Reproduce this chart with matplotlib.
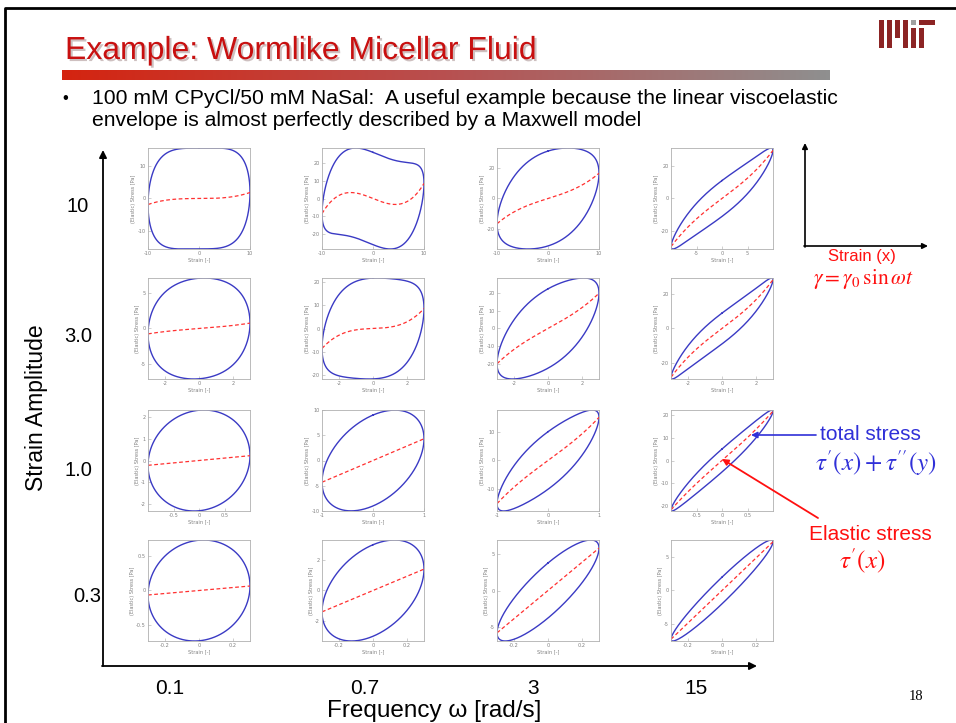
"""
Wormlike micellar fluid slide: Lissajous loops (total vs elastic stress)
over a grid of strain amplitudes and frequencies
"""
import numpy as np
import matplotlib
import matplotlib.pyplot as plt
from matplotlib import font_manager
from matplotlib.colors import LinearSegmentedColormap
from matplotlib.ticker import FuncFormatter
import matplotlib.patheffects as pe

# grid labels
strain_amps = [10, 3.0, 1.0, 0.3]            # rows, top to bottom
strain_labels = ['10', '3.0', '1.0', '0.3']
freqs = [0.1, 0.7, 3, 15]                     # columns
freq_labels = ['0.1', '0.7', '3', '15']

elastic_1 = [[1.4, 3.5, 15.0, 28.0],
             [0.7, 6.6, 19.0, 27.0],
             [0.22, 4.3, 14.5, 21.0],
             [0.065, 1.4, 5.85, 7.3]]
elastic_3 = [[0.45, 5.0, 1.5, 1.5],
             [0.05, 1.9, 1.0, 1.5],
             [0.0, 0.0, 0.5, 0.5],
             [0.0, 0.0, 0.0, 0.0]]
# viscous stress coefficients [Pa]
viscous_1 = [[17.5, 28.0, 31.0, 11.0],
             [7.2, 22.5, 22.5, 9.0],
             [2.3, 9.0, 10.0, 5.0],
             [0.73, 3.0, 3.8, 2.0]]
viscous_3 = [[-2.0, -2.0, 0.0, 0.0],
             [-0.2, -1.0, 0.0, 0.0],
             [0.0, 0.0, 0.0, 0.0],
             [0.0, 0.0, 0.0, 0.0]]

# tick positions of each small panel
x_ticks = [[[-10, 0, 10], [-10, 0, 10], [-10, 0, 10], [-5, 0, 5]],
           [[-2, 0, 2], [-2, 0, 2], [-2, 0, 2], [-2, 0, 2]],
           [[-0.5, 0, 0.5], [-1, 0, 1], [-1, 0, 1], [-0.5, 0, 0.5]],
           [[-0.2, 0, 0.2], [-0.2, 0, 0.2], [-0.2, 0, 0.2], [-0.2, 0, 0.2]]]
y_ticks = [[[-10, 0, 10], [-20, -10, 0, 10, 20], [-20, 0, 20], [-20, 0, 20]],
           [[-5, 0, 5], [-20, -10, 0, 10, 20], [-20, -10, 0, 10, 20], [-20, 0, 20]],
           [[-2, -1, 0, 1, 2], [-10, -5, 0, 5, 10], [-10, 0, 10], [-20, -10, 0, 10, 20]],
           [[-0.5, 0, 0.5], [-2, 0, 2], [-5, 0, 5], [-5, 0, 5]]]

W, H = 956, 723
plt.rcParams['mathtext.fontset'] = 'stix'

names = {f.name for f in font_manager.fontManager.ttflist}
narrow = 'Liberation Sans Narrow' if 'Liberation Sans Narrow' in names else 'Liberation Sans'
sans = 'Liberation Sans'

fig = plt.figure(figsize=(W / 100, H / 100), dpi=100)


def px_axes(left, top, w, h):
    return fig.add_axes([left / W, 1 - (top + h) / H, w / W, h / H])


col_left = [148, 322, 497, 671]
row_top = [148, 278, 410, 540]
t = np.linspace(0, 2 * np.pi, 600)
u_line = np.linspace(-1, 1, 200)
fmt = FuncFormatter(lambda v, p: '%g' % v)

for i, g0 in enumerate(strain_amps):
    for j, w in enumerate(freqs):
        ax = px_axes(col_left[j], row_top[i], 102, 101)
        e1, e3 = elastic_1[i][j], elastic_3[i][j]
        v1, v3 = viscous_1[i][j], viscous_3[i][j]
        u, c = np.sin(t), np.cos(t)
        total = e1 * u + e3 * (4 * u**3 - 3 * u) + v1 * c + v3 * (4 * c**3 - 3 * c)
        elastic = e1 * u_line + e3 * (4 * u_line**3 - 3 * u_line)
        ax.plot(g0 * u, total, color='#3a3ac4', lw=1.0)
        ax.plot(g0 * u_line, elastic, color='#ff3030', lw=0.9, ls=(0, (3, 2)))
        ax.margins(0)
        ax.set_xticks(x_ticks[i][j])
        ax.set_yticks(y_ticks[i][j])
        ax.xaxis.set_major_formatter(fmt)
        ax.yaxis.set_major_formatter(fmt)
        ax.tick_params(direction='in', length=2, width=0.4, colors='#aaaaaa',
                       labelsize=3.6, labelcolor='#808080', pad=1.5)
        for s in ax.spines.values():
            s.set_color('#b0b0b0')
            s.set_linewidth(0.6)
        ax.set_xlabel('Strain [-]', fontsize=3.6, color='#808080', labelpad=1)
        ax.set_ylabel('(Elastic) Stress [Pa]', fontsize=3.6, color='#808080', labelpad=1)

# overlay in pixel coordinates for the slide decoration
ov = fig.add_axes([0, 0, 1, 1])
ov.patch.set_alpha(0)

grad = np.linspace(0, 1, 256).reshape(1, -1)
cmap = LinearSegmentedColormap.from_list('bar', ['#d42410', '#b85050', '#8f8f8f'])
ov.imshow(grad, extent=(62, 830, 80, 70), aspect='auto', cmap=cmap)
ov.set_xlim(0, W)
ov.set_ylim(H, 0)
ov.axis('off')

# slide frame
ov.plot([5, 5, W], [H, 8, 8], color='black', lw=2, solid_capstyle='butt')

ov.text(65, 51, 'Example: Wormlike Micellar Fluid', color='#c81010', fontsize=23,
        family=narrow, ha='left', va='center',
        path_effects=[pe.withSimplePatchShadow(offset=(1.5, -1.5), alpha=0.25)])

# MIT logo
logo = '#8c2424'
for x0, y0, x1, y1, col in [(879, 20, 884, 48, logo), (887, 20, 892, 48, logo),
                            (895, 20, 900, 38, logo), (903, 20, 908, 48, logo),
                            (911, 20, 916, 25, '#a0a0a0'), (911, 28, 916, 48, logo),
                            (919, 20, 935, 25, logo), (919, 28, 924, 48, logo)]:
    ov.add_patch(plt.Rectangle((x0, y0), x1 - x0, y1 - y0, color=col, lw=0))

ov.text(62, 98, '\u2022', fontsize=12, family=sans, ha='left', va='center')
ov.text(92, 98, '100 mM CPyCl/50 mM NaSal:  A useful example because the linear viscoelastic',
        fontsize=15.2, family=sans, ha='left', va='center')
ov.text(92, 120, 'envelope is almost perfectly described by a Maxwell model',
        fontsize=15.2, family=sans, ha='left', va='center')

# big axes arrows
arrow = dict(arrowstyle='-|>', lw=1.3, color='black', mutation_scale=11, shrinkA=0, shrinkB=0)
ov.annotate('', xy=(103, 150), xytext=(103, 666), arrowprops=arrow)
ov.annotate('', xy=(757, 666), xytext=(102, 666), arrowprops=arrow)

ov.text(37, 408, 'Strain Amplitude', rotation=90, fontsize=16.5, family=sans,
        ha='center', va='center')
label_x = [78, 78, 78, 101]
label_y = [207, 337, 470, 596]
for k, lab in enumerate(strain_labels):
    ov.text(label_x[k], label_y[k], lab, fontsize=14.5, family=sans,
            ha='center' if k < 3 else 'right', va='center')
freq_x = [170, 365, 533, 696]
for k, lab in enumerate(freq_labels):
    ov.text(freq_x[k], 688, lab, fontsize=15, family=sans, ha='center', va='center')
ov.text(434, 711, 'Frequency \u03c9 [rad/s]', fontsize=17.5, family=sans,
        ha='center', va='center')
ov.text(916, 697, '18', fontsize=10.5, family='Liberation Serif', ha='center', va='center')

# small strain diagram
small = dict(arrowstyle='-|>', lw=1.2, color='black', mutation_scale=8, shrinkA=0, shrinkB=0)
ov.annotate('', xy=(805, 143), xytext=(805, 247), arrowprops=small)
ov.annotate('', xy=(928, 246), xytext=(804, 246), arrowprops=small)
ov.text(862, 257, 'Strain (x)', color='#ff1010', fontsize=12, family=sans,
        ha='center', va='center')
ov.text(863, 279, r'$\gamma = \gamma_0\,\sin\omega t$', color='#ff1010', fontsize=15.5,
        ha='center', va='center')

# stress annotations
blue = '#3030d8'
ov.text(870, 435, 'total stress', color=blue, fontsize=15, family=sans,
        ha='center', va='center')
ov.text(876, 463, r"$\tau'(x) + \tau''(y)$", color=blue, fontsize=18,
        ha='center', va='center')
ov.annotate('', xy=(751, 435), xytext=(816, 435),
            arrowprops=dict(arrowstyle='-|>', lw=1.2, color=blue, mutation_scale=9,
                            shrinkA=0, shrinkB=0))
ov.text(870, 535, 'Elastic stress', color='#ff1010', fontsize=15, family=sans,
        ha='center', va='center')
ov.text(862, 561, r"$\tau'(x)$", color='#ff1010', fontsize=18, ha='center', va='center')
ov.annotate('', xy=(722, 459), xytext=(818, 518),
            arrowprops=dict(arrowstyle='-|>', lw=1.3, color='#ff1010', mutation_scale=9,
                            shrinkA=0, shrinkB=0))

fig.savefig('out.png', dpi=100)
